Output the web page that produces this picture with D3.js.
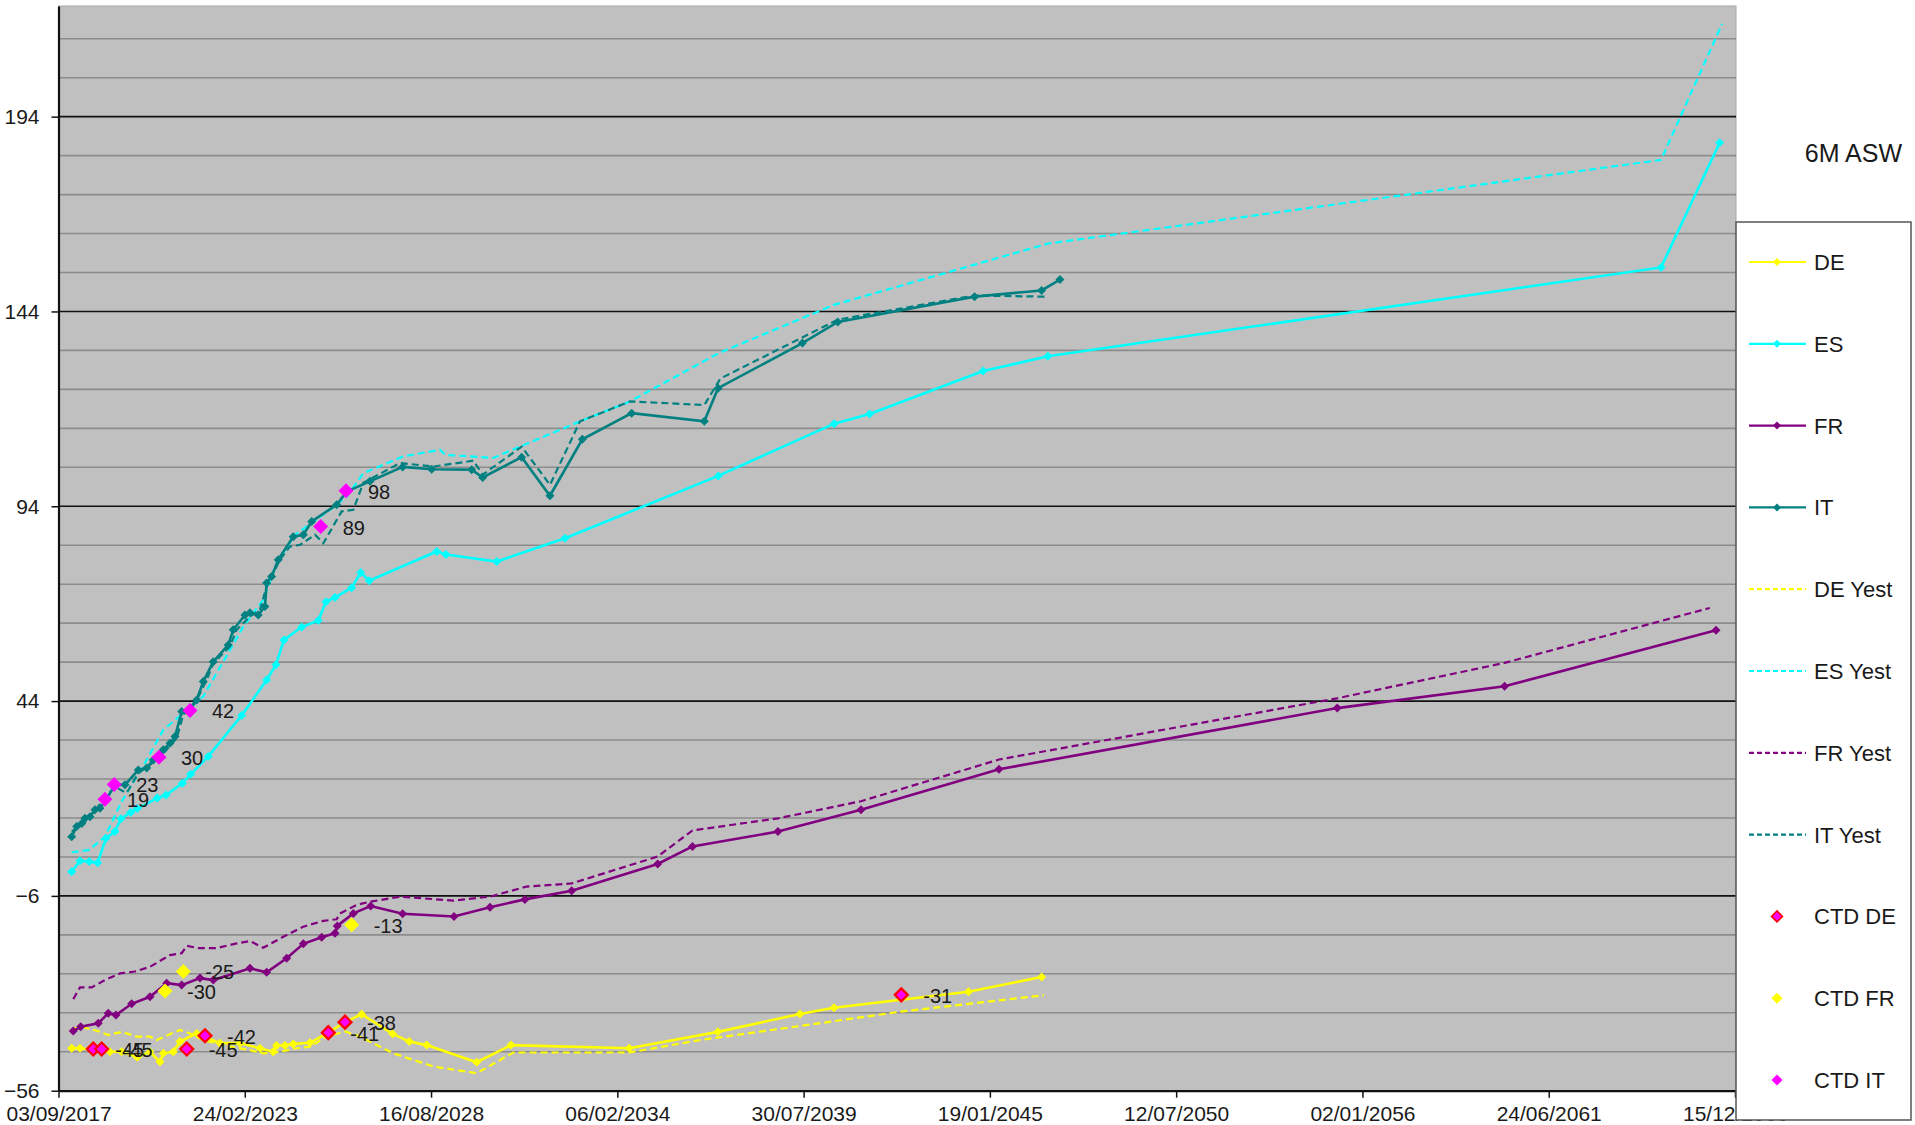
<!DOCTYPE html>
<html><head><meta charset="utf-8">
<script src="https://cdn.jsdelivr.net/npm/d3@7"></script>
<style>
html,body{margin:0;padding:0;background:#fff;}
svg text{font-family:"Liberation Sans",Arial,sans-serif;fill:#1a1a1a;}
</style></head>
<body><svg id="c" width="1915" height="1125"></svg>
<script>
// ---------- DATA (decimal year, value) ----------
const xTickLabels = ["03/09/2017","24/02/2023","16/08/2028","06/02/2034","30/07/2039","19/01/2045","12/07/2050","02/01/2056","24/06/2061","15/12/2066"];
const yTicks = [-56,-6,44,94,144,194];

const DE = [[2018.059,-45.1],[2018.303,-45.1],[2018.694,-45.5],[2018.941,-45.5],[2019.185,-46.0],[2019.529,-46.0],[2019.987,-47.4],[2020.361,-46.0],[2020.655,-48.6],[2020.752,-46.4],[2021.046,-46.0],[2021.243,-43.4],[2021.733,-41.3],[2022.418,-43.8],[2023.006,-43.8],[2023.594,-45.1],[2023.985,-46.0],[2024.085,-44.4],[2024.329,-44.4],[2024.573,-44.0],[2025.064,-43.7],[2025.602,-41.1],[2026.093,-38.4],[2026.584,-36.4],[2027.495,-41.4],[2027.983,-43.4],[2028.494,-44.3],[2029.964,-48.7],[2030.972,-44.3],[2034.449,-45.1],[2037.056,-40.9],[2039.467,-36.3],[2040.466,-34.7],[2044.420,-30.6],[2046.572,-26.8]];
const ES = [[2018.059,0.2],[2018.303,3.0],[2018.576,2.8],[2018.823,2.5],[2019.067,8.8],[2019.332,10.5],[2019.508,13.8],[2019.793,15.4],[2019.987,16.4],[2020.575,19.1],[2020.831,19.9],[2021.310,22.9],[2021.557,25.2],[2022.074,29.8],[2023.056,40.3],[2023.791,49.4],[2024.064,53.3],[2024.299,59.7],[2024.820,63.0],[2025.308,64.7],[2025.534,69.5],[2025.799,70.6],[2026.290,73.1],[2026.554,77.0],[2026.807,74.9],[2028.788,82.4],[2029.062,81.6],[2030.552,79.8],[2032.560,85.8],[2037.066,101.8],[2040.473,115.2],[2041.514,117.7],[2044.850,128.7],[2046.755,132.5],[2064.778,155.3],[2066.501,187.3]];
const FR = [[2018.106,-40.7],[2018.324,-39.6],[2018.841,-38.7],[2019.135,-36.1],[2019.361,-36.6],[2019.823,-33.7],[2020.361,-31.9],[2020.852,-28.4],[2021.292,-28.9],[2021.830,-27.1],[2022.222,-27.6],[2023.301,-24.6],[2023.791,-25.6],[2024.379,-22.0],[2024.867,-18.3],[2025.408,-16.6],[2025.799,-15.6],[2025.866,-13.7],[2026.337,-10.5],[2026.848,-8.6],[2027.789,-10.6],[2029.297,-11.3],[2030.355,-8.9],[2031.384,-6.9],[2032.757,-4.7],[2035.285,2.2],[2036.308,6.7],[2038.821,10.5],[2041.261,16.1],[2045.318,26.5],[2055.262,42.2],[2060.180,47.8],[2066.394,62.2]];
const IT = [[2018.059,9.2],[2018.206,11.8],[2018.353,12.6],[2018.450,13.9],[2018.597,14.3],[2018.744,16.1],[2018.891,16.5],[2019.038,18.2],[2019.332,22.5],[2019.626,22.5],[2020.017,26.3],[2020.264,26.8],[2020.458,28.9],[2020.752,31.5],[2020.949,33.2],[2021.096,34.9],[2021.293,41.3],[2021.537,41.7],[2021.733,44.3],[2021.927,49.0],[2022.221,54.1],[2022.662,58.4],[2022.809,62.3],[2023.153,66.1],[2023.300,66.7],[2023.544,66.1],[2023.741,68.3],[2023.791,74.3],[2023.938,76.0],[2024.132,80.3],[2024.573,86.2],[2024.867,86.7],[2025.114,90.1],[2025.849,94.4],[2026.143,97.8],[2026.828,100.4],[2027.789,104.1],[2028.641,103.5],[2029.817,103.4],[2030.141,101.4],[2031.287,106.6],[2032.119,96.7],[2033.069,111.2],[2034.521,117.9],[2036.655,115.8],[2037.060,124.3],[2039.540,135.9],[2040.580,141.3],[2044.600,147.8],[2046.570,149.4],[2047.110,152.2]];

const DE_Yest = [[2018.059,-40.2],[2018.353,-39.6],[2018.794,-40.6],[2019.135,-41.7],[2019.529,-40.9],[2019.970,-42.1],[2020.361,-42.1],[2020.558,-43.0],[2021.243,-40.4],[2021.537,-41.3],[2021.928,-43.0],[2022.516,-44.3],[2023.301,-45.6],[2023.692,-46.4],[2024.183,-46.0],[2024.674,-45.1],[2025.064,-44.7],[2025.555,-42.1],[2026.093,-40.8],[2026.534,-42.1],[2027.514,-46.4],[2028.690,-49.8],[2029.964,-51.5],[2031.040,-46.2],[2034.449,-46.2],[2036.528,-43.0],[2039.467,-39.4],[2042.436,-35.7],[2046.640,-31.5]];
const ES_Yest = [[2018.059,5.2],[2018.576,5.8],[2019.038,9.2],[2019.529,18.2],[2020.264,28.9],[2020.752,36.6],[2021.340,40.9],[2021.928,45.2],[2023.104,63.1],[2023.692,70.0],[2024.086,79.4],[2024.624,86.7],[2025.653,93.1],[2026.143,96.5],[2026.631,102.5],[2027.807,106.8],[2028.886,108.5],[2029.033,107.2],[2030.453,106.4],[2031.238,109.3],[2033.001,115.8],[2034.471,120.9],[2037.056,133.2],[2040.466,145.7],[2046.755,161.4],[2064.778,182.9],[2066.572,217.8]];
const FR_Yest = [[2018.106,-32.5],[2018.303,-29.5],[2018.647,-29.5],[2019.038,-27.6],[2019.479,-25.9],[2019.920,-25.4],[2020.361,-24.2],[2020.949,-21.2],[2021.293,-20.7],[2021.440,-18.8],[2021.781,-19.4],[2022.321,-19.4],[2022.909,-18.2],[2023.301,-17.6],[2023.692,-19.3],[2024.280,-16.5],[2024.867,-13.9],[2025.455,-12.4],[2025.849,-12.0],[2025.946,-10.5],[2026.437,-8.3],[2026.828,-7.5],[2027.710,-6.2],[2029.277,-7.2],[2030.355,-6.2],[2031.434,-3.6],[2032.757,-2.8],[2035.285,4.1],[2036.308,10.8],[2038.821,13.9],[2041.261,18.3],[2045.318,29.0],[2055.250,44.7],[2060.180,53.8],[2066.212,67.9]];
const IT_Yest = [[2018.059,10.5],[2018.450,13.0],[2018.891,17.5],[2019.332,22.0],[2019.675,20.4],[2020.017,25.5],[2020.361,27.6],[2020.752,30.6],[2021.145,34.5],[2021.340,40.5],[2021.733,44.3],[2022.027,49.4],[2022.221,53.7],[2022.711,58.0],[2022.909,62.3],[2023.301,65.7],[2023.594,67.4],[2023.791,73.4],[2024.183,80.3],[2024.477,83.7],[2024.771,84.1],[2025.212,86.7],[2025.457,84.5],[2025.995,92.7],[2026.337,93.1],[2026.631,100.0],[2027.710,105.1],[2028.690,104.2],[2029.866,105.7],[2030.141,102.1],[2031.287,109.3],[2032.119,99.5],[2033.001,115.8],[2034.471,120.9],[2036.655,120.0],[2037.130,126.8],[2040.580,141.9],[2044.600,148.1],[2046.670,147.8]];

const CTD_DE = [[2018.694,-45.3],[2018.941,-45.3],[2021.440,-45.3],[2021.978,-41.9],[2025.602,-41.1],[2026.093,-38.4],[2042.446,-31.4]];
const CTD_FR = [[2020.802,-30.4],[2021.340,-25.4],[2026.290,-13.4]];
const CTD_IT = [[2019.038,18.8],[2019.311,22.6],[2020.625,29.6],[2021.537,41.6],[2025.379,88.8],[2026.122,98.0]];

const title = "6M ASW";

// ---------- CHART ----------
const svg = d3.select("#c");
const parseTick = d3.utcParse("%d/%m/%Y");
const toDate = v => { const yr = Math.floor(v); const a = Date.UTC(yr,0,1), b = Date.UTC(yr+1,0,1); return new Date(a + (v-yr)*(b-a)); };
const tickDates = xTickLabels.map(parseTick);

const PL = 58.5, PR = 1736, PT = 6, PB = 1090.7;
const x = d3.scaleUtc().domain([tickDates[0], tickDates[tickDates.length-1]]).range([PL, 1735]);
const y = d3.scaleLinear().domain([-56, 222.4]).range([PB, PT]);

// plot background
svg.append("rect").attr("x",PL).attr("y",PT).attr("width",PR-PL).attr("height",PB-PT)
  .attr("fill","#c0c0c0").attr("stroke","#a8a8a8").attr("stroke-width",1);

// grid lines: minor every 10, major on ticks
const minor = d3.range(-46, 222.4, 10).filter(v => !yTicks.includes(v));
svg.append("g").selectAll("line").data(minor).join("line")
  .attr("x1",PL).attr("x2",PR).attr("y1",d=>y(d)).attr("y2",d=>y(d))
  .attr("stroke","#8c8c8c").attr("stroke-width",1.6);
svg.append("g").selectAll("line").data(yTicks.filter(v=>v>-56)).join("line")
  .attr("x1",PL).attr("x2",PR).attr("y1",d=>y(d)).attr("y2",d=>y(d))
  .attr("stroke","#111").attr("stroke-width",1.6);

// axes
const xAxis = svg.append("g").attr("transform",`translate(0,${PB})`)
  .call(d3.axisBottom(x).tickValues(tickDates).tickFormat(d3.utcFormat("%d/%m/%Y")).tickSize(7).tickPadding(8).tickSizeOuter(0));
xAxis.selectAll("text").attr("font-size",21).style("fill","#1a1a1a");
xAxis.select(".domain").attr("stroke","#111").attr("stroke-width",2.2);
xAxis.selectAll(".tick line").attr("stroke","#111").attr("stroke-width",1.5);

const yAxis = svg.append("g").attr("transform",`translate(${PL},0)`)
  .call(d3.axisLeft(y).tickValues(yTicks).tickFormat(d3.format("d")).tickSize(7).tickPadding(12).tickSizeOuter(0));
yAxis.selectAll("text").attr("font-size",21).style("fill","#1a1a1a");
yAxis.select(".domain").attr("stroke","#111").attr("stroke-width",2.2);
yAxis.selectAll(".tick line").attr("stroke","#111").attr("stroke-width",1.5);

const COL = {DE:"#ffff00", ES:"#00ffff", FR:"#800080", IT:"#008080"};
const line = d3.line().x(d=>x(toDate(d[0]))).y(d=>y(d[1]));
const diamond = r => `M0,${-r}L${r},0L0,${r}L${-r},0Z`;

const plot = svg.append("g");
// yesterday dashed lines
[[DE_Yest,COL.DE],[ES_Yest,COL.ES],[FR_Yest,COL.FR],[IT_Yest,COL.IT]].forEach(([data,c])=>{
  plot.append("path").datum(data).attr("d",line).attr("fill","none")
    .attr("stroke",c).attr("stroke-width",2.2).attr("stroke-dasharray","7,4");
});
// solid series with markers
[[DE,COL.DE],[ES,COL.ES],[FR,COL.FR],[IT,COL.IT]].forEach(([data,c])=>{
  plot.append("path").datum(data).attr("d",line).attr("fill","none")
    .attr("stroke",c).attr("stroke-width",2.6);
  plot.append("g").selectAll("path").data(data).join("path")
    .attr("d",diamond(4.5)).attr("fill",c)
    .attr("transform",d=>`translate(${x(toDate(d[0]))},${y(d[1])})`);
});

// CTD markers + labels
function ctd(data, fill, stroke){
  plot.append("g").selectAll("path").data(data).join("path")
    .attr("d",diamond(stroke?6.5:7.5)).attr("fill",fill)
    .attr("stroke",stroke||"none").attr("stroke-width",stroke?2.2:0)
    .attr("transform",d=>`translate(${x(toDate(d[0]))},${y(d[1])})`);
  plot.append("g").selectAll("text").data(data).join("text")
    .attr("x",d=>x(toDate(d[0]))+22).attr("y",d=>y(d[1])+8)
    .attr("font-size",20).text(d=>Math.round(d[1]));
}
ctd(CTD_DE,"#ff00ff","#ff0000");
ctd(CTD_FR,"#ffff00",null);
ctd(CTD_IT,"#ff00ff",null);

// title
svg.append("text").attr("x",1902).attr("y",162).attr("text-anchor","end")
  .attr("font-size",25).text(title);

// legend
const LX = 1736, LY = 222, LW = 175, LH = 898;
svg.append("rect").attr("x",LX).attr("y",LY).attr("width",LW).attr("height",LH)
  .attr("fill","#fff").attr("stroke","#555").attr("stroke-width",1.5);
const legendItems = [
  {name:"DE", c:COL.DE, type:"solid"},
  {name:"ES", c:COL.ES, type:"solid"},
  {name:"FR", c:COL.FR, type:"solid"},
  {name:"IT", c:COL.IT, type:"solid"},
  {name:"DE Yest", c:COL.DE, type:"dash"},
  {name:"ES Yest", c:COL.ES, type:"dash"},
  {name:"FR Yest", c:COL.FR, type:"dash"},
  {name:"IT Yest", c:COL.IT, type:"dash"},
  {name:"CTD DE", c:"#ff00ff", stroke:"#ff0000", type:"marker"},
  {name:"CTD FR", c:"#ffff00", type:"marker"},
  {name:"CTD IT", c:"#ff00ff", type:"marker"}
];
const ly = d3.scalePoint().domain(legendItems.map(d=>d.name)).range([262,1080]);
const lg = svg.append("g");
legendItems.forEach(it=>{
  const yy = ly(it.name);
  if(it.type!=="marker"){
    lg.append("line").attr("x1",1749).attr("x2",1806).attr("y1",yy).attr("y2",yy)
      .attr("stroke",it.c).attr("stroke-width",2.2)
      .attr("stroke-dasharray",it.type==="dash"?"5,3":null);
  }
  if(it.type!=="dash"){
    lg.append("path").attr("d",diamond(it.type==="marker"?5.5:4)).attr("fill",it.c)
      .attr("stroke",it.stroke||"none").attr("stroke-width",it.stroke?1.5:0)
      .attr("transform",`translate(1777,${yy})`);
  }
  lg.append("text").attr("x",1814).attr("y",yy+8).attr("font-size",22).text(it.name);
});
</script></body></html>
